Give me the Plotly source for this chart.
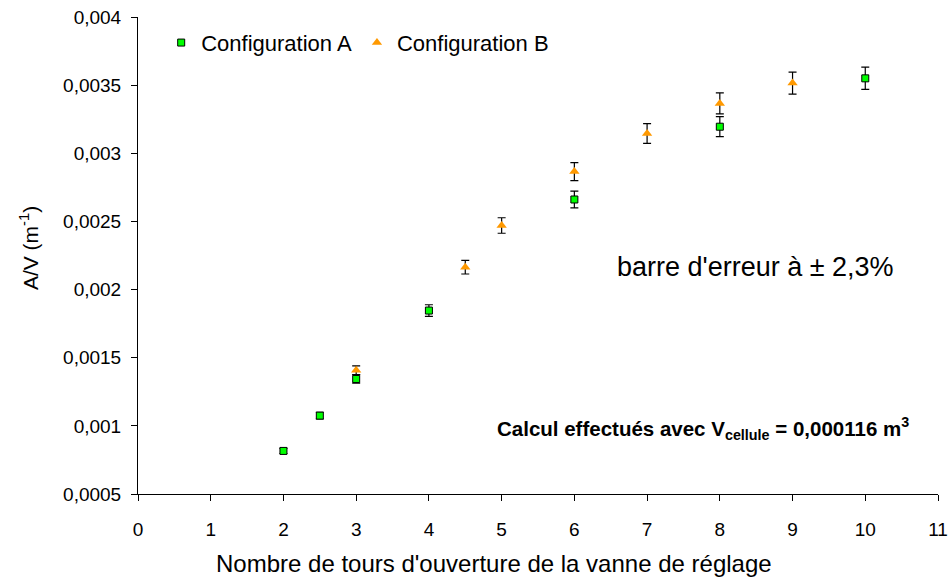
import plotly.graph_objects as go

# Configuration A
tours_a = [2, 2.5, 3, 4, 6, 8, 10]
av_a = [0.000816, 0.001075, 0.001344, 0.001846, 0.002661, 0.003195, 0.00355]

# Configuration B
tours_b = [3, 4.5, 5, 6, 7, 8, 9]
av_b = [0.001408, 0.002164, 0.00247, 0.002866, 0.003145, 0.003366, 0.003515]

erreur_pct = 2.3

y_ticks = [0.0005, 0.001, 0.0015, 0.002, 0.0025, 0.003, 0.0035, 0.004]
y_labels = ["0,0005", "0,001", "0,0015", "0,002", "0,0025", "0,003", "0,0035", "0,004"]
x_ticks = list(range(0, 12))

FONT = "Liberation Sans, Arial, sans-serif"

fig = go.Figure()

fig.add_trace(go.Scatter(
    x=tours_a, y=av_a, mode="markers", name="Configuration A",
    marker=dict(symbol="square", size=7, color="#00FF00",
                line=dict(color="black", width=1)),
    error_y=dict(type="percent", value=erreur_pct, color="black",
                 thickness=1.2, width=4),
))
fig.add_trace(go.Scatter(
    x=tours_b, y=av_b, mode="markers", name="Configuration B",
    marker=dict(symbol="triangle-up", size=9, color="#FF9900",
                line=dict(width=0)),
    error_y=dict(type="percent", value=erreur_pct, color="black",
                 thickness=1.2, width=4),
))

# titres d'axes placés à la main
fig.add_annotation(
    x=-0.136, y=0.516, xref="paper", yref="paper", xanchor="center", yanchor="middle",
    text="A/V (m<sup>-1</sup>)", textangle=-90, showarrow=False,
    font=dict(size=21, color="black", family=FONT),
)
fig.add_annotation(
    x=0.445, y=-0.145, xref="paper", yref="paper", xanchor="center", yanchor="middle",
    text="Nombre de tours d'ouverture de la vanne de réglage", showarrow=False,
    font=dict(size=24, color="black", family=FONT),
)

fig.add_annotation(
    x=0.596, y=0.476, xref="paper", yref="paper", xanchor="left", yanchor="middle",
    text="barre d'erreur à ± 2,3%", showarrow=False,
    font=dict(size=27, color="black", family=FONT),
)
fig.add_annotation(
    x=0.966, y=0.138, xref="paper", yref="paper", xanchor="right", yanchor="middle",
    text="<b>Calcul effectués avec V<sub>cellule</sub> = 0,000116 m<sup>3</sup></b>",
    showarrow=False,
    font=dict(size=20.5, color="black", family=FONT),
)

fig.update_layout(
    width=951, height=581,
    margin=dict(l=138, r=13, t=17, b=87),
    plot_bgcolor="white", paper_bgcolor="white",
    font=dict(family=FONT, size=19, color="black"),
    showlegend=True,
    legend=dict(orientation="h", x=0.029, y=0.99, xanchor="left", yanchor="top",
                bgcolor="rgba(0,0,0,0)", font=dict(size=22),
                itemwidth=30, tracegroupgap=0),
    xaxis=dict(
        range=[0, 11], tickvals=x_ticks, showgrid=False, zeroline=False,
        showline=True, linecolor="black", linewidth=1,
        ticks="outside", ticklen=6, tickcolor="black",
        ticklabelstandoff=12, automargin=False,
        tickfont=dict(size=19),
    ),
    yaxis=dict(
        range=[0.0005, 0.004], tickvals=y_ticks, ticktext=y_labels,
        showgrid=False, zeroline=False,
        showline=True, linecolor="black", linewidth=1,
        ticks="outside", ticklen=6, tickcolor="black",
        ticklabelstandoff=6, automargin=False,
        tickfont=dict(size=19),
    ),
)

# supprimer la marge par défaut du <body> pour que la figure remplisse la fenêtre
fig.write_html("out.html", config={"displayModeBar": False},
               post_script="document.body.style.margin='0';")
